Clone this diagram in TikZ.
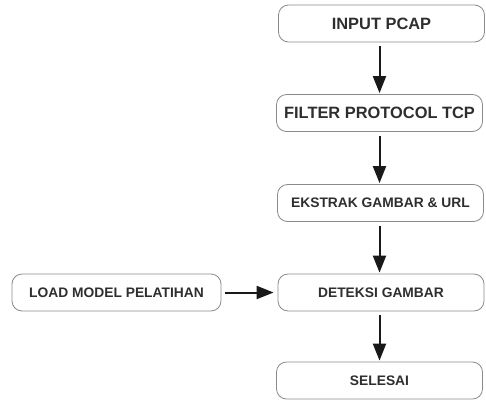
\documentclass[tikz,border=0pt]{standalone}
\usepackage{fontspec}
\setmainfont{Liberation Sans}
\usetikzlibrary{arrows.meta}
\definecolor{boxline}{HTML}{8A8A8A}
\definecolor{txt}{HTML}{2E2E2E}
\tikzset{
  stepbox/.style={draw=boxline, line width=0.8pt, rounded corners=10pt,
    minimum width=206pt, minimum height=37pt, inner sep=0pt,
    text=txt, font=\bfseries\fontsize{13.8}{15}\selectfont},
  bigtext/.style={font=\bfseries\fontsize{16.4}{18}\selectfont},
  flow/.style={line width=2pt, draw=black!90,
    -{Triangle[length=17pt 0,width=13pt 0]}, shorten <=4pt, shorten >=1pt}
}
\begin{document}
\begin{tikzpicture}[x=1pt,y=-1pt]
\useasboundingbox (0,0) rectangle (486,399);
\node[stepbox,bigtext] (inp) at (381.5,23.5) {INPUT PCAP};
\node[stepbox,bigtext] (fil) at (379.5,113) {FILTER PROTOCOL TCP};
\node[stepbox] (eks) at (380.5,203) {EKSTRAK GAMBAR \& URL};
\node[stepbox] (det) at (381,292.5) {DETEKSI GAMBAR};
\node[stepbox] (sel) at (379.5,380.5) {SELESAI};
\node[stepbox, minimum width=209pt] (load) at (116.5,292.5) {LOAD MODEL PELATIHAN};
\draw[flow] (inp.south -| fil.north) -- (fil.north);
\draw[flow] (fil.south) -- (fil.south |- eks.north);
\draw[flow] (eks.south -| fil.south) -- (fil.south |- det.north);
\draw[flow] (det.south -| fil.south) -- (fil.south |- sel.north);
\draw[flow] (load.east) -- ([xshift=-3pt]det.west);
\end{tikzpicture}
\end{document}
